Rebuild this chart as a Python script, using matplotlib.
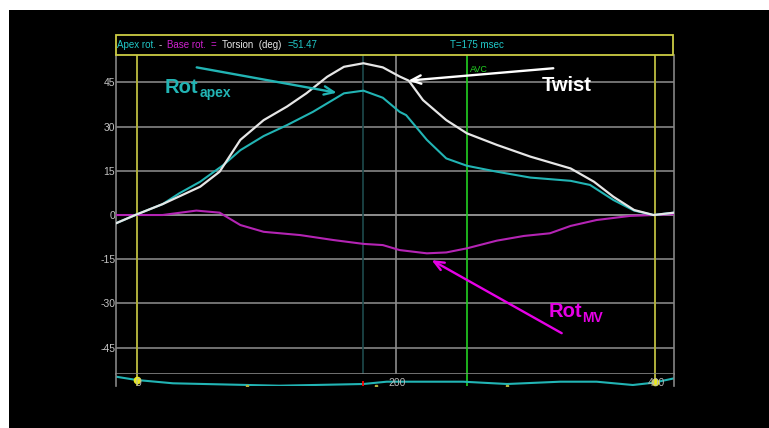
import matplotlib
matplotlib.use('Agg')
import matplotlib.pyplot as plt
from matplotlib.patches import Rectangle
import numpy as np

plt.rcParams['font.family'] = ['Liberation Sans', 'DejaVu Sans']

# ---------------- data (time in msec, rotation in degrees) ----------------
twist_t = [-16, 0, 20, 49, 64, 80, 98, 116, 131, 147, 160, 175, 190, 203, 210,
           221, 239, 255, 278, 304, 335, 353, 368, 384, 399, 415]
twist = [-2.8, 0.2, 3.7, 9.6, 14.7, 25.5, 32.2, 36.8, 41.3, 46.9, 50.3, 51.5,
         50.1, 47.0, 45.6, 39.0, 32.2, 27.7, 23.8, 19.8, 15.8, 11.3, 6.2, 1.7, 0.0, 0.8]

apex_t = [-16, 0, 20, 33, 49, 67, 80, 98, 116, 136, 160, 175, 190, 203, 208,
          224, 239, 255, 278, 304, 335, 350, 368, 384, 399, 415]
apex = [-2.8, 0.2, 3.7, 7.4, 11.3, 17.0, 22.0, 26.8, 30.5, 35.0, 41.3, 42.2,
        39.8, 35.0, 33.9, 25.5, 19.2, 16.7, 14.7, 12.7, 11.6, 10.2, 5.1, 1.5, 0.0, 0.8]

base_t = [-16, 20, 46, 64, 80, 98, 126, 152, 175, 190, 203, 224, 239, 255, 278,
          299, 319, 335, 355, 381, 399, 415]
base = [0.0, 0.0, 1.5, 0.8, -3.4, -5.7, -6.8, -8.5, -9.8, -10.2, -11.9, -13.0,
        -12.7, -11.3, -8.7, -7.1, -6.2, -3.7, -1.7, -0.3, 0.0, 0.3]

ecg_t = [-16, 0, 28, 110, 175, 193, 252, 286, 327, 355, 383, 399, 415]
ecg = [9.3, 6.0, 2.7, 0.3, 2.0, 4.3, 4.3, 2.0, 4.3, 4.3, 1.0, 3.3, 7.7]

y_ticks = [45, 30, 15, 0, -15, -30, -45]
y_labels = ['45', '30', '15', '0', '-15', '-30', '-45']
x_labels_t = [0, 200, 400]
x_labels = ['0', '200', '400']

cycle_marks = [0, 400]      # yellow cycle markers
grid_t = 200                # gray vertical grid
current_t = 175             # cursor (T=175 msec)
avc_t = 255                 # aortic valve closure
small_marks = [85, 185, 286]

header_torsion = '=51.47'
header_time = 'T=175 msec'

# ---------------- colours ----------------
C_WHITE = '#e6e6e6'
C_TEAL = '#22b4b4'
C_MAG = '#b424b4'
C_MAG_TXT = '#e600e6'
C_GRID = '#858585'
C_YEL = '#b0b03c'
C_BOX = '#cccc44'
C_GREEN = '#22d022'
C_CURSOR = '#1e4a4c'
C_LABEL = '#c4c4c4'

W, H = 769, 428
fig = plt.figure(figsize=(W / 100, H / 100), dpi=100)
fig.patch.set_facecolor('white')


def fx(px):
    return px / W


def fy(py):
    return 1 - py / H


fig.add_artist(Rectangle((fx(9), 0), 1 - fx(9), fy(10), transform=fig.transFigure,
                         facecolor='black', edgecolor='none', zorder=0))

ax = fig.add_axes([fx(116), fy(373.7), fx(674) - fx(116), fy(55) - fy(373.7)])
ax2 = fig.add_axes([fx(116), fy(386), fx(674) - fx(116), fy(373.7) - fy(386)])

XL = (-16.0, 414.8)
for a in (ax, ax2):
    a.set_facecolor('black')
    a.set_xlim(*XL)
    a.set_xticks([])
    for s in a.spines.values():
        s.set_color(C_GRID)
        s.set_linewidth(1.2)
ax.spines['top'].set_visible(False)
ax2.spines['top'].set_visible(False)
ax2.spines['bottom'].set_visible(False)

ax.set_ylim(-53.85, 54.3)
ax.set_yticks(y_ticks)
ax.set_yticklabels(y_labels)
ax.tick_params(axis='y', length=0, pad=0.5, labelcolor=C_LABEL, labelsize=7.5)

for v in y_ticks:
    ax.axhline(v, color='#a8a8a8' if v == 0 else C_GRID, lw=1.2, zorder=1)
ax.axvline(grid_t, color='#8c8c8c', lw=1.2, zorder=1)
ax.axvline(current_t, color=C_CURSOR, lw=1.2, zorder=1)
ax.axvline(avc_t, color=C_GREEN, lw=1.2, zorder=1)
for t in cycle_marks:
    ax.axvline(t, color=C_YEL, lw=1.4, zorder=1)

ax.plot(base_t, base, color=C_MAG, lw=1.5, zorder=3)
ax.plot(apex_t, apex, color=C_TEAL, lw=1.5, zorder=4)
ax.plot(twist_t, twist, color=C_WHITE, lw=1.6, zorder=5)

ax.text(avc_t + 2.5, 50.8, 'AVC', color=C_GREEN, fontsize=6.5, va='top', ha='left', zorder=2)

# annotations
ax.annotate('', xy=(154.4, 41.5), xytext=(46.3, 50.1),
            arrowprops=dict(arrowstyle='->,head_length=0.7,head_width=0.3',
                            color=C_TEAL, lw=1.7, shrinkA=0, shrinkB=0), zorder=6)
ax.text(21.5, 41.3, 'Rot', color=C_TEAL, fontsize=14.5, fontweight='bold',
        ha='left', va='baseline', zorder=6)
ax.text(48.8, 40.1, 'apex', color=C_TEAL, fontsize=10, fontweight='bold',
        ha='left', va='baseline', zorder=6)

ax.annotate('', xy=(209.7, 45.6), xytext=(321.6, 49.8),
            arrowprops=dict(arrowstyle='->,head_length=0.7,head_width=0.3',
                            color='white', lw=1.7, shrinkA=0, shrinkB=0), zorder=6)
ax.text(312.7, 42.2, 'Twist', color='white', fontsize=14.5, fontweight='bold',
        ha='left', va='baseline', zorder=6)

ax.annotate('', xy=(227.7, -15.3), xytext=(328.1, -40.1),
            arrowprops=dict(arrowstyle='->,head_length=0.7,head_width=0.3',
                            color=C_MAG_TXT, lw=1.7, shrinkA=0, shrinkB=0), zorder=6)
ax.text(317.8, -34.5, 'Rot', color=C_MAG_TXT, fontsize=14.5, fontweight='bold',
        ha='left', va='baseline', zorder=6)
ax.text(343.5, -36.2, 'MV', color=C_MAG_TXT, fontsize=10, fontweight='bold',
        ha='left', va='baseline', zorder=6)

# ECG strip
ax2.set_ylim(0, 12.3)
ax2.set_yticks([])
for t in cycle_marks:
    ax2.axvline(t, color=C_YEL, lw=1.4, zorder=1)
ax2.axvline(avc_t, color=C_GREEN, lw=1.2, zorder=1)
ax2.vlines(current_t, 0, 5.5, color='red', lw=1.3, zorder=3)
ax2.plot(ecg_t, ecg, color=C_TEAL, lw=1.5, zorder=2)
ax2.plot(small_marks, [0.5] * len(small_marks), 's', color=C_YEL, ms=1.5, zorder=3)
ax2.plot(cycle_marks, np.interp(cycle_marks, ecg_t, ecg), 'o', color='#e8e820',
         ms=4.5, zorder=5)
for t, lab in zip(x_labels_t, x_labels):
    ax2.text(t + 1, 3.5, lab, color='#b8b8b8', fontsize=7.5, ha='center', va='center',
             zorder=6)

# header box
fig.add_artist(Rectangle((fx(116), fy(55)), fx(673) - fx(116), fy(35) - fy(55),
                         transform=fig.transFigure, facecolor='black',
                         edgecolor=C_BOX, lw=1.3, zorder=5))
hy = fy(45.5)
segs = [(117, 'Apex rot.', '#20c8c8'), (159, '-', '#d8d8d8'), (167, 'Base rot.', '#d020d0'),
        (211, '=', '#d020d0'), (222, 'Torsion  (deg)', '#e8e8e8'),
        (288, header_torsion, '#20c8c8'), (450, header_time, '#20c8c8')]
for px, s, c in segs:
    fig.text(fx(px), hy, s, color=c, fontsize=7, ha='left', va='center', zorder=6)

fig.savefig('out.png', dpi=100, facecolor=fig.get_facecolor())
